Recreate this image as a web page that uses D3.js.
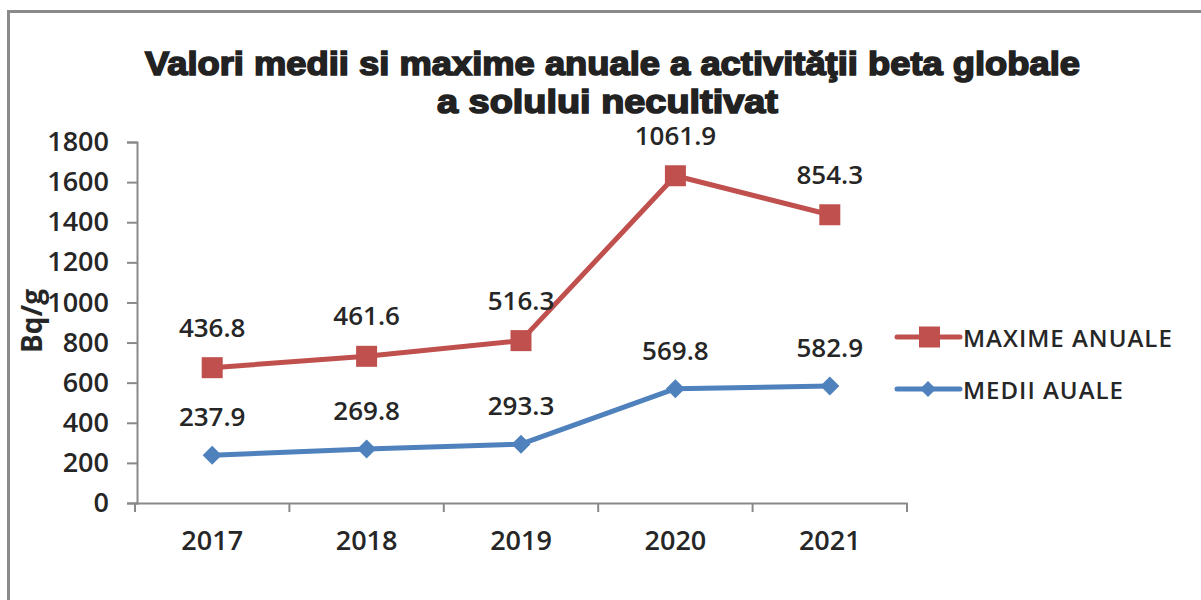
<!DOCTYPE html>
<html>
<head>
<meta charset="utf-8">
<script src="https://cdn.jsdelivr.net/npm/d3@7"></script>
<style>
	body { margin: 0; background: #fff; }
	svg { display: block; }
	text { fill: #262626; }
</style>
</head>
<body>
<div id="content"></div>
<script>
let years = ['2017', '2018', '2019', '2020', '2021']
let medii = [237.9, 269.8, 293.3, 569.8, 582.9]
let maxime = [436.8, 461.6, 516.3, 1061.9, 854.3]
let y_ticks = [0, 200, 400, 600, 800, 1000, 1200, 1400, 1600, 1800]
let title_lines = ['Valori medii si maxime anuale a activităţii beta globale', 'a solului necultivat']
let series_names = ['MAXIME ANUALE', 'MEDII AUALE']

let WIDTH = 1201
let HEIGHT = 600
let RED = '#c0504d'
let BLUE = '#4f81bd'
let AXIS = '#898989'
let LABEL_FONT = '"Open Sans", Lato, sans-serif'

let svg = d3.select('#content').append('svg')
	.attr('width', WIDTH)
	.attr('height', HEIGHT)

// frame of the picture (top and left edges only visible)
svg.append('path')
	.attr('d', `M 8.5 600 L 8.5 11.5 L ${WIDTH} 11.5`)
	.attr('fill', 'none')
	.attr('stroke', '#8a8a8a')
	.attr('stroke-width', 3)

// title
let title_fit = [935, 341]
svg.selectAll('text.title')
	.data(title_lines)
	.enter().append('text')
		.attr('class', 'title')
		.attr('x', (d, i) => 145 + (i ? 292 : 0))
		.attr('y', (d, i) => 75 + i * 38)
		.attr('textLength', (d, i) => title_fit[i])
		.attr('lengthAdjust', 'spacingAndGlyphs')
		.style('font-family', '"Liberation Sans", Arial, sans-serif')
		.style('font-weight', 'bold')
		.style('font-size', '33px')
		.style('fill', '#222')
		.style('stroke', '#222')
		.style('stroke-width', 1.6)
		.text((d) => d)

// scales
let x = d3.scaleBand().domain(years).range([135, 907])
let y = d3.scaleLinear().domain([0, 1800]).range([503, 142])
let cx = (d) => x(d) + x.bandwidth() / 2

// stacked line: red series sits on top of the blue one
let stacked = maxime.map((v, i) => v + medii[i])

// y axis
let y_axis = svg.append('g')
	.attr('transform', 'translate(137, 0)')
	.call(d3.axisLeft(y).tickValues(y_ticks).tickSize(10).tickPadding(18).tickFormat(d3.format('d')))
y_axis.select('.domain').attr('stroke', AXIS).attr('stroke-width', 2)
y_axis.selectAll('.tick line').attr('stroke', AXIS).attr('stroke-width', 2)
y_axis.selectAll('.tick text')
	.style('font-family', LABEL_FONT)
	.style('font-weight', 600)
	.style('font-size', '27px')
	.style('fill', '#262626')

// x axis
let x_axis = svg.append('g')
	.attr('transform', `translate(0, ${y(0)})`)
	.call(d3.axisBottom(x).tickSize(0).tickPadding(28))
x_axis.select('.domain').attr('stroke', AXIS).attr('stroke-width', 2)
x_axis.selectAll('.tick text')
	.style('font-family', LABEL_FONT)
	.style('font-weight', 600)
	.style('font-size', '27px')
	.style('fill', '#262626')
x_axis.selectAll('line.sep')
	.data(d3.range(years.length + 1))
	.enter().append('line')
		.attr('class', 'sep')
		.attr('x1', (i) => x.range()[0] + i * x.step())
		.attr('x2', (i) => x.range()[0] + i * x.step())
		.attr('y1', 0)
		.attr('y2', 9)
		.attr('stroke', AXIS)
		.attr('stroke-width', 2)

// y axis title
svg.append('text')
	.attr('transform', 'translate(42, 321) rotate(-90)')
	.attr('text-anchor', 'middle')
	.style('font-family', LABEL_FONT)
	.style('font-weight', 700)
	.style('font-size', '28px')
	.text('Bq/g')

let line = d3.line()
	.x((d, i) => cx(years[i]))
	.y((d) => y(d))

let diamond = (s) => `M 0 ${-s} L ${s} 0 L 0 ${s} L ${-s} 0 Z`

// blue series
svg.append('path')
	.attr('d', line(medii))
	.attr('fill', 'none')
	.attr('stroke', BLUE)
	.attr('stroke-width', 5)
	.attr('stroke-linejoin', 'round')
svg.selectAll('path.blue')
	.data(medii)
	.enter().append('path')
		.attr('class', 'blue')
		.attr('transform', (d, i) => `translate(${cx(years[i])}, ${y(d)})`)
		.attr('d', diamond(9.5))
		.attr('fill', BLUE)

// red series
svg.append('path')
	.attr('d', line(stacked))
	.attr('fill', 'none')
	.attr('stroke', RED)
	.attr('stroke-width', 5)
	.attr('stroke-linejoin', 'round')
svg.selectAll('rect.red')
	.data(stacked)
	.enter().append('rect')
		.attr('class', 'red')
		.attr('x', (d, i) => cx(years[i]) - 10.5)
		.attr('y', (d) => y(d) - 10.5)
		.attr('width', 21)
		.attr('height', 21)
		.attr('fill', RED)

// data labels
function labels(values, positions, dy) {
	svg.append('g').selectAll('text')
		.data(values)
		.enter().append('text')
			.attr('x', (d, i) => cx(years[i]))
			.attr('y', (d, i) => y(positions[i]) - dy)
			.attr('text-anchor', 'middle')
			.attr('dominant-baseline', 'central')
			.style('font-family', LABEL_FONT)
			.style('font-weight', 600)
			.style('font-size', '26px')
			.text((d) => d.toFixed(1))
}
labels(medii, medii, 39)
labels(maxime, stacked, 41)

// legend
let legend = svg.append('g')
	.selectAll('g')
	.data(series_names)
	.enter().append('g')
		.attr('transform', (d, i) => `translate(897, ${337 + i * 52})`)
legend.append('line')
	.attr('x1', 0)
	.attr('x2', 63)
	.attr('stroke', (d, i) => i ? BLUE : RED)
	.attr('stroke-width', 5)
	.attr('stroke-linecap', 'round')
legend.filter((d, i) => i === 0).append('rect')
	.attr('x', 22)
	.attr('y', -10.5)
	.attr('width', 21)
	.attr('height', 21)
	.attr('fill', RED)
legend.filter((d, i) => i === 1).append('path')
	.attr('transform', 'translate(31, 0)')
	.attr('d', diamond(8))
	.attr('fill', BLUE)
legend.append('text')
	.attr('x', 66)
	.attr('dominant-baseline', 'central')
	.style('font-family', LABEL_FONT)
	.style('font-weight', 600)
	.style('font-size', '24px')
	.style('letter-spacing', '1px')
	.text((d) => d)
</script>
</body>
</html>
